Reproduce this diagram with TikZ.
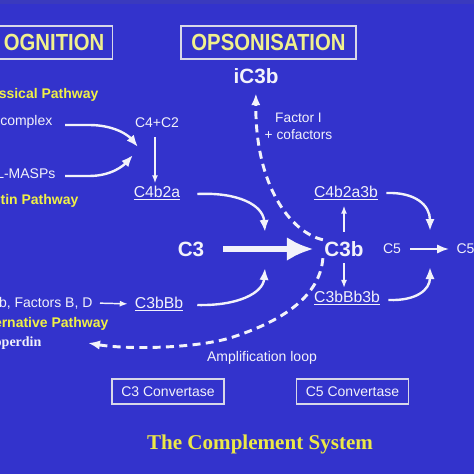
\documentclass[tikz,border=0pt]{standalone}
\usepackage{fontspec}
\setmainfont{Liberation Sans}
\newfontfamily\timesfont{Liberation Serif}
\usepackage{xcolor}
\usepackage{graphicx}
\usepackage{tikz}
\usetikzlibrary{arrows.meta}

\definecolor{slideblue}{RGB}{51,51,204}
\definecolor{stripblue}{RGB}{58,58,190}
\definecolor{txtwhite}{RGB}{242,242,250}
\definecolor{boxgray}{RGB}{215,215,232}
\definecolor{headyellow}{RGB}{240,240,140}
\definecolor{pathyellow}{RGB}{240,240,70}
\definecolor{titleyellow}{RGB}{236,232,70}

\newcommand{\headsqueeze}[1]{\scalebox{0.87}[1]{#1}}

\tikzset{
  plain/.style={text=txtwhite, inner sep=1pt, font=\fontsize{10.5}{12.6}\selectfont},
  comp/.style={text=txtwhite, inner sep=1pt, font=\fontsize{11.8}{14}\selectfont},
  big/.style={text=txtwhite, inner sep=1pt, font=\bfseries\fontsize{15.5}{18}\selectfont},
  pathlbl/.style={text=pathyellow, inner sep=1pt, font=\bfseries\fontsize{10.5}{12.6}\selectfont},
  proplbl/.style={text=txtwhite, inner sep=1pt, font=\timesfont\bfseries\fontsize{10.5}{12.6}\selectfont},
  titlelbl/.style={text=titleyellow, inner sep=1pt, font=\timesfont\bfseries\fontsize{15.8}{19}\selectfont},
  headbox/.style={draw=boxgray, line width=1.1pt, text=headyellow, inner xsep=6pt,
    minimum height=24.75pt, font=\bfseries\fontsize{17.5}{20}\selectfont},
  convbox/.style={draw=boxgray, line width=1.1pt, text=txtwhite, minimum width=84pt,
    minimum height=18.75pt, font=\fontsize{10.5}{12.6}\selectfont},
  curvearr/.style={draw=txtwhite, line width=1.8pt, -{Latex[length=9pt,width=7pt]}},
  thinarr/.style={draw=txtwhite, line width=1.1pt, -{Latex[length=6pt,width=4.5pt]}},
  thickarr/.style={draw=txtwhite, line width=5pt, -{Latex[length=20pt,width=18pt]}},
  dasharr/.style={draw=txtwhite, line width=2.2pt, dash pattern=on 6pt off 4pt,
    -{Latex[length=9pt,width=7pt]}}
}

\begin{document}
\begin{tikzpicture}[x=0.75pt, y=-0.75pt]
    \useasboundingbox (0,0) rectangle (474,474);
    \clip (0,0) rectangle (474,474);
    \fill[slideblue] (0,0) rectangle (474,474);
    \fill[stripblue] (0,0) rectangle (474,4);

    % Headings
    \node[headbox, anchor=east] (recog) at (113,42.5) {\headsqueeze{OGNITION}};
    \node[headbox, minimum width=131.25pt] (opson) at (268.5,42.5) {\headsqueeze{OPSONISATION}};

    % Pathways on the left
    \node[pathlbl, anchor=east] (clas) at (100,95) {assical Pathway};
    \node[plain, anchor=east] (cpx) at (54,122) {complex};
    \node[plain, anchor=east] (mbl) at (57,174) {L-MASPs};
    \node[pathlbl, anchor=east] (lect) at (80,201) {ctin Pathway};
    \node[plain, anchor=east] (fbd) at (94,303) {b, Factors B, D};
    \node[pathlbl, anchor=east] (alt) at (110,324) {ernative Pathway};
    \node[proplbl, anchor=east] (prop) at (43,343) {operdin};

    % C3 convertases
    \node[plain] (c42) at (157,123) {C4+C2};
    \node[comp] (c4b2a) at (157,193) {\underline{C4b2a}};
    \node[comp] (c3bbb) at (159,304) {\underline{C3bBb}};

    % C3 and its products
    \node[big] (c3) at (191,249) {C3};
    \node[big] (c3b) at (344,249) {C3b};
    \node[big] (ic3b) at (256,76) {iC3b};
    \node[plain, align=center, font=\fontsize{10.3}{12.75}\selectfont] (faci) at (298.5,126.5) {Factor I\\+ cofactors};

    % C5 convertases
    \node[comp] (c4b2a3b) at (346,193) {\underline{C4b2a3b}};
    \node[comp] (c3bbb3b) at (347,298) {\underline{C3bBb3b}};
    \node[plain] (c5) at (392,249) {C5};
    \node[plain, anchor=west] (c5b) at (455,249) {C5};

    % Bottom labels
    \node[plain] (amp) at (262,358) {Amplification loop};
    \node[convbox] (conv3) at (168,391.5) {C3 Convertase};
    \node[convbox] (conv5) at (352.5,391.5) {C5 Convertase};
    \node[titlelbl] (ttl) at (260,444) {The Complement System};

    % Arrow ends
    \coordinate (j1) at (138,147);
    \coordinate (j2) at (133,155);
    \coordinate (t1) at (265,232);
    \coordinate (t2) at (265,268);
    \coordinate (t3) at (430,231);
    \coordinate (t4) at (430,267);
    \coordinate (ampend) at (88,343);

    % Arrows
    \draw[curvearr] (cpx.east) ++(11,3) -- ++(24,0) .. controls (114,125) and (128,135) .. (j1);
    \draw[curvearr] (mbl.east) ++(8,2) -- ++(24,0) .. controls (112,176) and (124,165) .. (j2);
    \draw[thinarr, shorten <=5.5pt, shorten >=0.75pt] ([xshift=-1.5pt]c42.south) -- ([xshift=-1.5pt]c4b2a.north);
    \draw[curvearr] (c4b2a.east) ++(15.5,1) .. controls (238,192) and (263,205) .. (t1);
    \draw[curvearr] (c3bbb.east) ++(12.6,1) .. controls (238,306) and (263,293) .. (t2);
    \draw[thinarr, shorten <=4.5pt, shorten >=4.2pt] (fbd.east) -- (c3bbb.west);
    \draw[thickarr, shorten <=13pt, shorten >=7pt] (c3) -- (c3b);
    \draw[thinarr, shorten <=6pt, shorten >=3pt] (c3b.north) -- (c3b.north |- c4b2a3b.south);
    \draw[thinarr, shorten <=3.75pt, shorten >=1pt] (c3b.south) -- (c3b.south |- c3bbb3b.north);
    \draw[curvearr] (c4b2a3b.east) ++(6.8,0) .. controls (415,192) and (430,205) .. (t3);
    \draw[curvearr] (c3bbb3b.east) ++(7,2) .. controls (416,301) and (430,290) .. (t4);
    \draw[curvearr, line width=1.5pt, shorten <=5.8pt, shorten >=4.5pt] (c5) -- (c5b);

    % Dashed arrows
    \draw[dasharr, shorten >=6pt] (c3b.north west) .. controls (290,232) and (255,185) .. (ic3b.south);
    \draw[dasharr] (c3b.south west) .. controls (320,295) and (285,320) .. (233,337)
        .. controls (200,348) and (130,350) .. (ampend);
\end{tikzpicture}
\end{document}
